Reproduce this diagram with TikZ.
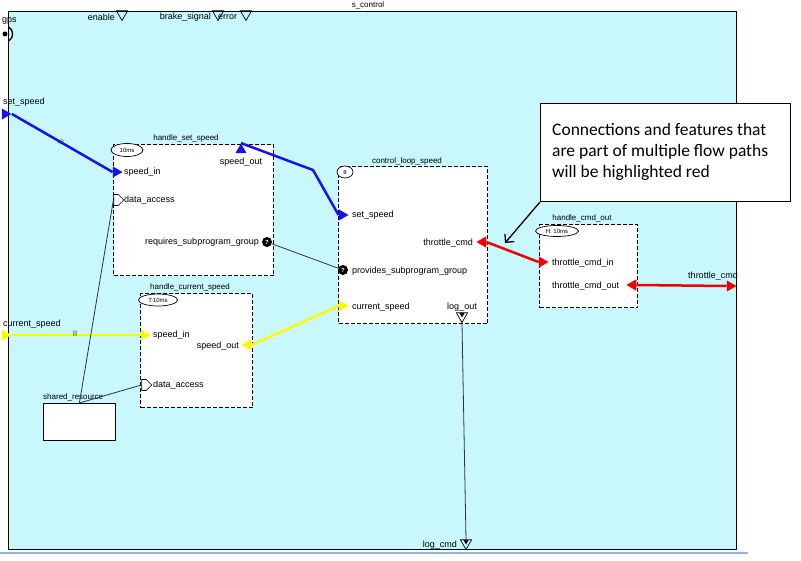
\documentclass[tikz,border=0pt]{standalone}
\usepackage{fontspec}
\setmainfont{Liberation Sans}
\newfontfamily\calloutfont{Carlito}
\usetikzlibrary{shapes.geometric,shapes.symbols,arrows.meta}
\definecolor{bgcyan}{RGB}{200,248,254}
\definecolor{fblue}{RGB}{20,20,235}
\definecolor{fyellow}{RGB}{255,250,0}
\definecolor{fred}{RGB}{240,0,0}
\definecolor{baseblue}{RGB}{150,180,215}
\tikzset{
  porttext/.style={font=\fontsize{9}{10}\selectfont, inner sep=0pt},
  titletext/.style={font=\fontsize{8}{9}\selectfont, inner sep=0pt},
  tri/.style={regular polygon, regular polygon sides=3, inner sep=0pt, minimum size=13pt},
  tright/.style={tri, shape border rotate=-90},
  tleft/.style={tri, shape border rotate=90},
  tup/.style={tri},
  tdown/.style={tri, shape border rotate=180},
  compbox/.style={draw, dash pattern=on 4pt off 2pt, line width=1.1pt, fill=white, inner sep=0pt, anchor=north west},
  timer/.style={ellipse, draw, line width=0.7pt, fill=white, inner sep=0pt, font=\fontsize{6}{6}\selectfont},
  subp/.style={circle, fill=black, inner sep=0pt, minimum size=10pt, text=white, font=\fontsize{6}{6}\bfseries\selectfont},
  access/.style={signal, signal to=east, draw, fill=white, line width=0.7pt, minimum width=10pt, minimum height=11pt, inner sep=0pt},
  flowblue/.style={draw=fblue, line width=2.5pt},
  flowred/.style={draw=fred, line width=2.5pt},
  flowyellow/.style={draw=fyellow, line width=2.5pt},
  plainconn/.style={draw=black!80, line width=0.8pt},
  marktext/.style={font=\fontsize{8}{8}\selectfont, text=black!75, inner sep=0pt},
}
\begin{document}
\begin{tikzpicture}[x=1pt,y=-1pt]
\useasboundingbox (0,0) rectangle (801,561);

% system
\node[draw, fill=bgcyan, line width=0.8pt, minimum width=728pt, minimum height=538pt, anchor=north west, inner sep=0pt] (sys) at (8,11) {};
\node[titletext] (systitle) at (368,5) {s\_control};
\draw[baseblue, line width=2pt] (0,553) -- (748,553);

% top ports
\node[porttext, anchor=east] (enabletxt) at (115,17) {enable};
\node[tdown, draw, line width=0.7pt] (enable) at (122,14) {};
\node[porttext, anchor=east] (braketxt) at (211,17) {brake\_signal};
\node[tdown, draw, line width=0.7pt] (brake) at (218,14) {};
\node[porttext, anchor=west] (errortxt) at (218,17) {error};
\node[tdown, draw, line width=0.7pt] (error) at (246,14) {};

% gps
\node[porttext, anchor=west] (gpstxt) at (2,21) {gps};
\node[circle, fill=black, inner sep=0pt, minimum size=5pt] (gpsdot) at (5,34) {};
\draw[line width=1.4pt] (8.5,27) .. controls (14,30) and (14,38) .. (8.5,41);

% system ports
\node[porttext, anchor=west] (sstxt) at (3,102) {set\_speed};
\node[tright, fill=fblue] (ssin) at (5,114) {};
\node[porttext, anchor=west] (cstxt) at (3,324) {current\_speed};
\node[tright, fill=fyellow] (csin) at (5,335) {};
\node[porttext] (tctxt) at (713,276) {throttle\_cmd};
\node[tright, fill=fred] (tcout) at (730,286) {};
\node[porttext, anchor=east] (logcmdtxt) at (457,545) {log\_cmd};
\node[tdown, draw, line width=0.7pt] (logcmd) at (466,543) {};
\node[tdown, fill=black, minimum size=6pt] (logcmdin) at (466,541.5) {};

% handle_set_speed
\node[compbox, minimum width=160pt, minimum height=131pt] (hss) at (113,144) {};
\node[titletext] (hsstitle) at (186,138) {handle\_set\_speed};
\node[timer, minimum width=32pt, minimum height=13pt] (hsstimer) at (127,150) {10ms};
\node[tright, fill=fblue] (hssin) at (116,172) {};
\node[porttext, anchor=west] (hssintxt) at (124,172) {speed\_in};
\node[access] (hssda) at (116,200) {};
\node[porttext, anchor=west] (hssdatxt) at (124,200) {data\_access};
\node[tup, fill=fblue] (hssout) at (241,150) {};
\node[porttext] (hssouttxt) at (241,162) {speed\_out};
\node[subp] (hssreq) at (267,242) {?};
\node[porttext, anchor=east] (hssreqtxt) at (259,242) {requires\_subprogram\_group};

% handle_current_speed
\node[compbox, minimum width=112pt, minimum height=114pt] (hcs) at (140,293) {};
\node[titletext] (hcstitle) at (190,287) {handle\_current\_speed};
\node[timer, minimum width=39pt, minimum height=12pt] (hcstimer) at (158,300) {T:10ms};
\node[tright, fill=fyellow] (hcsin) at (144,335) {};
\node[porttext, anchor=west] (hcsintxt) at (153,335) {speed\_in};
\node[tleft, fill=fyellow] (hcsout) at (248,345) {};
\node[porttext, anchor=east] (hcsouttxt) at (239,346) {speed\_out};
\node[access] (hcsda) at (144,385) {};
\node[porttext, anchor=west] (hcsdatxt) at (153,385) {data\_access};

% shared_resource
\node[draw, fill=white, line width=0.8pt, minimum width=72pt, minimum height=37pt, anchor=north west, inner sep=0pt] (shr) at (43,403) {};
\node[titletext, anchor=south west] (shrtitle) at (43,401) {shared\_resource};

% control_loop_speed
\node[compbox, minimum width=149pt, minimum height=157pt] (cls) at (338,166) {};
\node[titletext] (clstitle) at (407,161) {control\_loop\_speed};
\node[timer, minimum width=16pt, minimum height=12pt] (clstimer) at (345,172) {8};
\node[tright, fill=fblue] (clsset) at (342,215) {};
\node[porttext, anchor=west] (clssettxt) at (352,215) {set\_speed};
\node[tleft, fill=fred] (clsthr) at (483,242) {};
\node[porttext, anchor=east] (clsthrtxt) at (473,243) {throttle\_cmd};
\node[subp] (clsprov) at (343,270) {?};
\node[porttext, anchor=west] (clsprovtxt) at (352,271) {provides\_subprogram\_group};
\node[tright, fill=fyellow] (clscur) at (342,306) {};
\node[porttext, anchor=west] (clscurtxt) at (352,307) {current\_speed};
\node[porttext] (clslogtxt) at (462,307) {log\_out};
\node[tdown, draw, line width=0.7pt] (clslog) at (462,316) {};
\node[tdown, fill=black, minimum size=6pt] (clslogin) at (462,314.5) {};

% handle_cmd_out
\node[compbox, minimum width=98pt, minimum height=83pt] (hco) at (539,224) {};
\node[titletext] (hcotitle) at (582,218) {handle\_cmd\_out};
\node[timer, minimum width=43pt, minimum height=11pt] (hcotimer) at (557,231) {H: 10ms};
\node[tright, fill=fred] (hcoin) at (542,262) {};
\node[porttext, anchor=west] (hcointxt) at (552,263) {throttle\_cmd\_in};
\node[tleft, fill=fred] (hcoout) at (633,285) {};
\node[porttext, anchor=west] (hcoouttxt) at (552,286) {throttle\_cmd\_out};

% connections
\draw[flowblue] (ssin.east) -- (hssin.west);
\node[marktext, rotate=-30] (ssmark) at (61,142) {//};
\coordinate (bend1) at (313,170);
\draw[flowblue] (hssout.north) -- (bend1) -- (clsset.west);
\draw[flowyellow] (csin.east) -- (hcsin.west);
\node[marktext] (csmark) at (75,334) {II};
\draw[flowyellow] (hcsout.east) -- (clscur.west);
\draw[flowred] (clsthr.east) -- (hcoin.west);
\draw[flowred] (hcoout.east) -- (tcout.west);
\draw[plainconn] (hssreq) -- (clsprov);
\draw[plainconn] (clslog.south) -- (logcmd.north);
\draw[plainconn] (shr.north) -- (hssda.west);
\draw[plainconn] (shr.north) -- (hcsda.west);

% callout
\node[draw, fill=white, line width=1pt, minimum width=250pt, minimum height=98pt, anchor=north west, inner sep=0pt] (callout) at (540,103) {};
\node[anchor=base west, inner sep=0pt, font=\calloutfont\fontsize{17.5}{21}\selectfont] (cl1) at (552,135.5) {Connections and features that};
\node[anchor=base west, inner sep=0pt, font=\calloutfont\fontsize{17.5}{21}\selectfont] (cl2) at (552,156.8) {are part of multiple flow paths};
\node[anchor=base west, inner sep=0pt, font=\calloutfont\fontsize{17.5}{21}\selectfont] (cl3) at (552,178) {will be highlighted red};
\coordinate (calltip) at (505,243);
\draw[line width=1.3pt, -{Straight Barb[length=6pt,width=12pt]}] (callout.south west) -- (calltip);
\end{tikzpicture}
\end{document}
